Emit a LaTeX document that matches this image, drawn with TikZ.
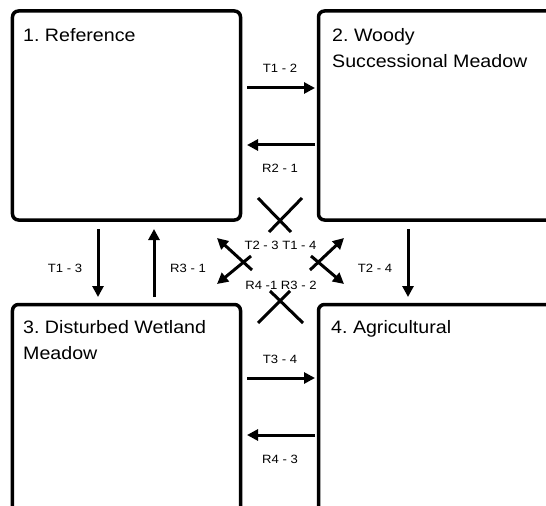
\documentclass[tikz,border=0pt]{standalone}
\usepackage{fontspec}
\setmainfont[FakeStretch=1.09]{Liberation Sans}
\usetikzlibrary{arrows.meta}
\begin{document}
\frenchspacing
\begin{tikzpicture}[x=1bp,y=-1bp,
  box/.style={draw=black,line width=3.5bp,rounded corners=6bp,minimum width=228bp,minimum height=209bp,inner sep=0pt,outer sep=0pt},
  title/.style={anchor=north west,inner sep=0pt,align=left,font=\fontsize{18bp}{26.5bp}\selectfont},
  lbl/.style={inner sep=0pt,font=\fontsize{12bp}{14bp}\selectfont},
  arr/.style={line width=3bp,-{Triangle[length=11bp,width=11bp]}},
  xline/.style={line width=3bp}]
\useasboundingbox (0,0) rectangle (546,506);
\clip (0,0) rectangle (546,506);
\fill[white] (0,0) rectangle (546,506);
% boxes
\node[box] (b1) at (126.5,115.5) {};
\node[box, minimum width=280bp] (b2) at (458.5,115.5) {};
\node[box] (b3) at (126.5,409) {};
\node[box, minimum width=280bp] (b4) at (458.5,409) {};
% titles
\node[title] (t1) at (23,28) {1. Reference};
\node[title] (t2) at (332,28) {2. Woody\\Successional Meadow};
\node[title] (t3) at (23,320) {3. Disturbed Wetland\\Meadow};
\node[title] (t4) at (331,320) {4. Agricultural};
% horizontal arrows
\draw[arr] ([shift={(6.5,-27.5)}]b1.east) -- ([shift={(-3.5,-27.5)}]b2.west);
\draw[arr] ([shift={(-3.5,29.5)}]b2.west) -- ([shift={(6.5,29.5)}]b1.east);
\draw[arr] ([shift={(6.5,-31)}]b3.east) -- ([shift={(-3.5,-31)}]b4.west);
\draw[arr] ([shift={(-3.5,26)}]b4.west) -- ([shift={(6.5,26)}]b3.east);
% vertical arrows
\draw[arr] ([shift={(-28.5,9)}]b1.south) -- ([shift={(-28.5,-7.5)}]b3.north);
\draw[arr] ([shift={(27.5,-7.5)}]b3.north) -- ([shift={(27.5,9)}]b1.south);
\draw[arr] ([shift={(-50.5,9)}]b2.south) -- ([shift={(-50.5,-7.5)}]b4.north);
% labels
\node[lbl] (l12) at (280,68) {T1 - 2};
\node[lbl] (l21) at (280,168) {R2 - 1};
\node[lbl] (l34) at (280,359) {T3 - 4};
\node[lbl] (l43) at (280,459) {R4 - 3};
\node[lbl] (l13) at (65,268) {T1 - 3};
\node[lbl] (l31) at (188,268) {R3 - 1};
\node[lbl] (l24) at (375,268) {T2 - 4};
\node[lbl] (lt) at (280.5,245) {T2 - 3 T1 - 4};
\node[lbl] (lr) at (281,285) {R4 -1 R3 - 2};
% crosses
\coordinate (xa1) at (258,198); \coordinate (xa2) at (291,232);
\coordinate (xb1) at (302,198); \coordinate (xb2) at (269,232);
\draw[xline] (xa1) -- (xa2);
\draw[xline] (xb1) -- (xb2);
\coordinate (ya1) at (270,291); \coordinate (ya2) at (303,323);
\coordinate (yb1) at (290,291); \coordinate (yb2) at (258,323);
\draw[xline] (ya1) -- (ya2);
\draw[xline] (yb1) -- (yb2);
% diagonal arrows
\coordinate (d1s) at (252,270); \coordinate (d1e) at (217,238);
\coordinate (d2s) at (251,256); \coordinate (d2e) at (217,284);
\coordinate (d3s) at (310,270); \coordinate (d3e) at (344,238);
\coordinate (d4s) at (311,256); \coordinate (d4e) at (344,284);
\draw[arr] (d1s) -- (d1e);
\draw[arr] (d2s) -- (d2e);
\draw[arr] (d3s) -- (d3e);
\draw[arr] (d4s) -- (d4e);
\end{tikzpicture}
\end{document}
